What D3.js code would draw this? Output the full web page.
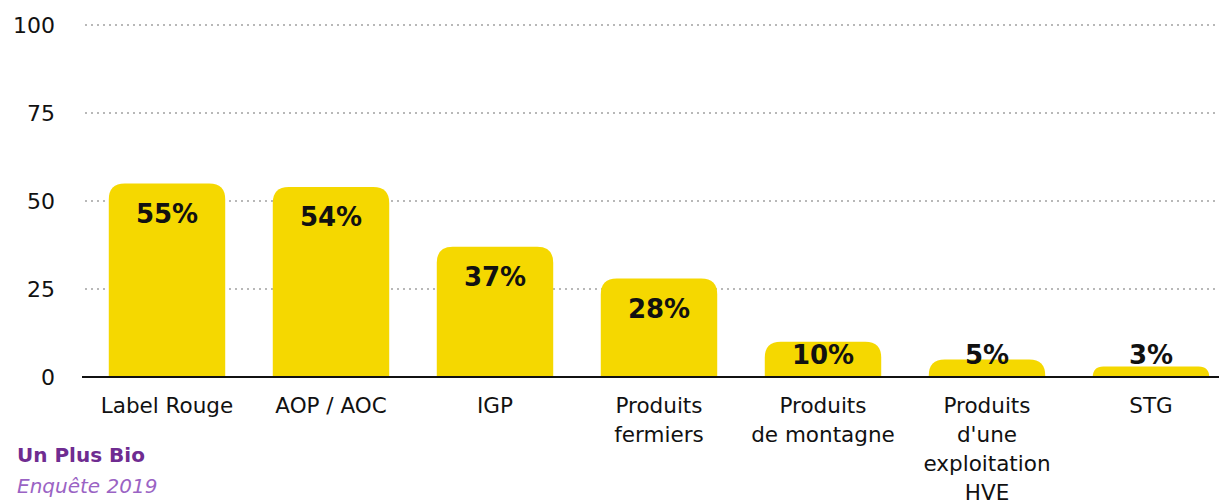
<!DOCTYPE html>
<html>
<head>
<meta charset="utf-8">
<title>Labels de qualité</title>
<script src="https://d3js.org/d3.v7.min.js"></script>
<style>
  body { margin: 0; background: #fff; }
  svg { display: block; font-family: "DejaVu Sans", sans-serif; }
</style>
</head>
<body>
<div id="chart"></div>
<script>
// categories and values (%)
var categories = ["Label Rouge", "AOP / AOC", "IGP", "Produits fermiers", "Produits de montagne", "Produits d'une exploitation HVE", "STG"];
var labelLines = [["Label Rouge"], ["AOP / AOC"], ["IGP"], ["Produits", "fermiers"], ["Produits", "de montagne"], ["Produits", "d'une", "exploitation", "HVE"], ["STG"]];
var values = [55, 54, 37, 28, 10, 5, 3];
var yTicks = [0, 25, 50, 75, 100];

var W = 1219, H = 502;
var x0 = 85, x1 = 1233, yBase = 377, yTop = 25;

var svg = d3.select("#chart").append("svg")
    .attr("width", W).attr("height", H);

var x = d3.scaleBand().domain(categories).range([x0, x1]).paddingInner(0.29).paddingOuter(0.145);
var y = d3.scaleLinear().domain([0, 100]).range([yBase, yTop]);

// grid lines (dotted)
svg.append("g").selectAll("line")
    .data(yTicks.filter(function(d) { return d > 0; }))
  .enter().append("line")
    .attr("x1", x0).attr("x2", W)
    .attr("y1", function(d) { return y(d); })
    .attr("y2", function(d) { return y(d); })
    .attr("stroke", "#b8b8b8")
    .attr("stroke-width", 2)
    .attr("stroke-dasharray", "2,4");

// y tick labels
svg.append("g").selectAll("text")
    .data(yTicks)
  .enter().append("text")
    .attr("x", 55)
    .attr("y", function(d) { return y(d); })
    .attr("dy", "0.35em")
    .attr("text-anchor", "end")
    .attr("font-size", 22)
    .attr("fill", "#111")
    .text(function(d) { return d; });

// bars with rounded top corners
function barPath(xl, w, top, bottom, r) {
  r = Math.min(r, bottom - top, w / 2);
  return "M" + xl + "," + bottom +
    "V" + (top + r) +
    "Q" + xl + "," + top + " " + (xl + r) + "," + top +
    "H" + (xl + w - r) +
    "Q" + (xl + w) + "," + top + " " + (xl + w) + "," + (top + r) +
    "V" + bottom + "Z";
}

svg.append("g").selectAll("path")
    .data(values)
  .enter().append("path")
    .attr("fill", "#f5d800")
    .attr("d", function(d, i) {
      return barPath(x(categories[i]), x.bandwidth(), y(d), yBase, 16);
    });

// baseline
svg.append("line")
    .attr("x1", 82).attr("x2", W)
    .attr("y1", yBase).attr("y2", yBase)
    .attr("stroke", "#111").attr("stroke-width", 2);

// value labels
svg.append("g").selectAll("text")
    .data(values)
  .enter().append("text")
    .attr("x", function(d, i) { return x(categories[i]) + x.bandwidth() / 2; })
    .attr("y", function(d) { return Math.min(y(d) + 30, 355); })
    .attr("dy", "0.35em")
    .attr("text-anchor", "middle")
    .attr("font-size", 26)
    .attr("font-weight", "bold")
    .attr("fill", "#111")
    .text(function(d) { return d + "%"; });

// category labels
var cat = svg.append("g").selectAll("text")
    .data(categories)
  .enter().append("text")
    .attr("text-anchor", "middle")
    .attr("font-size", 21.5)
    .attr("fill", "#111")
    .attr("x", function(d) { return x(d) + x.bandwidth() / 2; })
    .attr("y", 406);
cat.selectAll("tspan")
    .data(function(d, i) { return labelLines[i]; })
  .enter().append("tspan")
    .attr("x", function() { return d3.select(this.parentNode).attr("x"); })
    .attr("y", function(d, j) { return 405 + j * 29; })
    .attr("dy", "0.35em")
    .text(function(d) { return d; });

// source
svg.append("text")
    .attr("x", 17).attr("y", 455).attr("dy", "0.35em")
    .attr("font-size", 20).attr("font-weight", "bold")
    .attr("fill", "#6f2c91")
    .text("Un Plus Bio");
svg.append("text")
    .attr("x", 17).attr("y", 486).attr("dy", "0.35em")
    .attr("font-size", 20).attr("font-style", "italic")
    .attr("fill", "#9a63c4")
    .text("Enquête 2019");
</script>
</body>
</html>
